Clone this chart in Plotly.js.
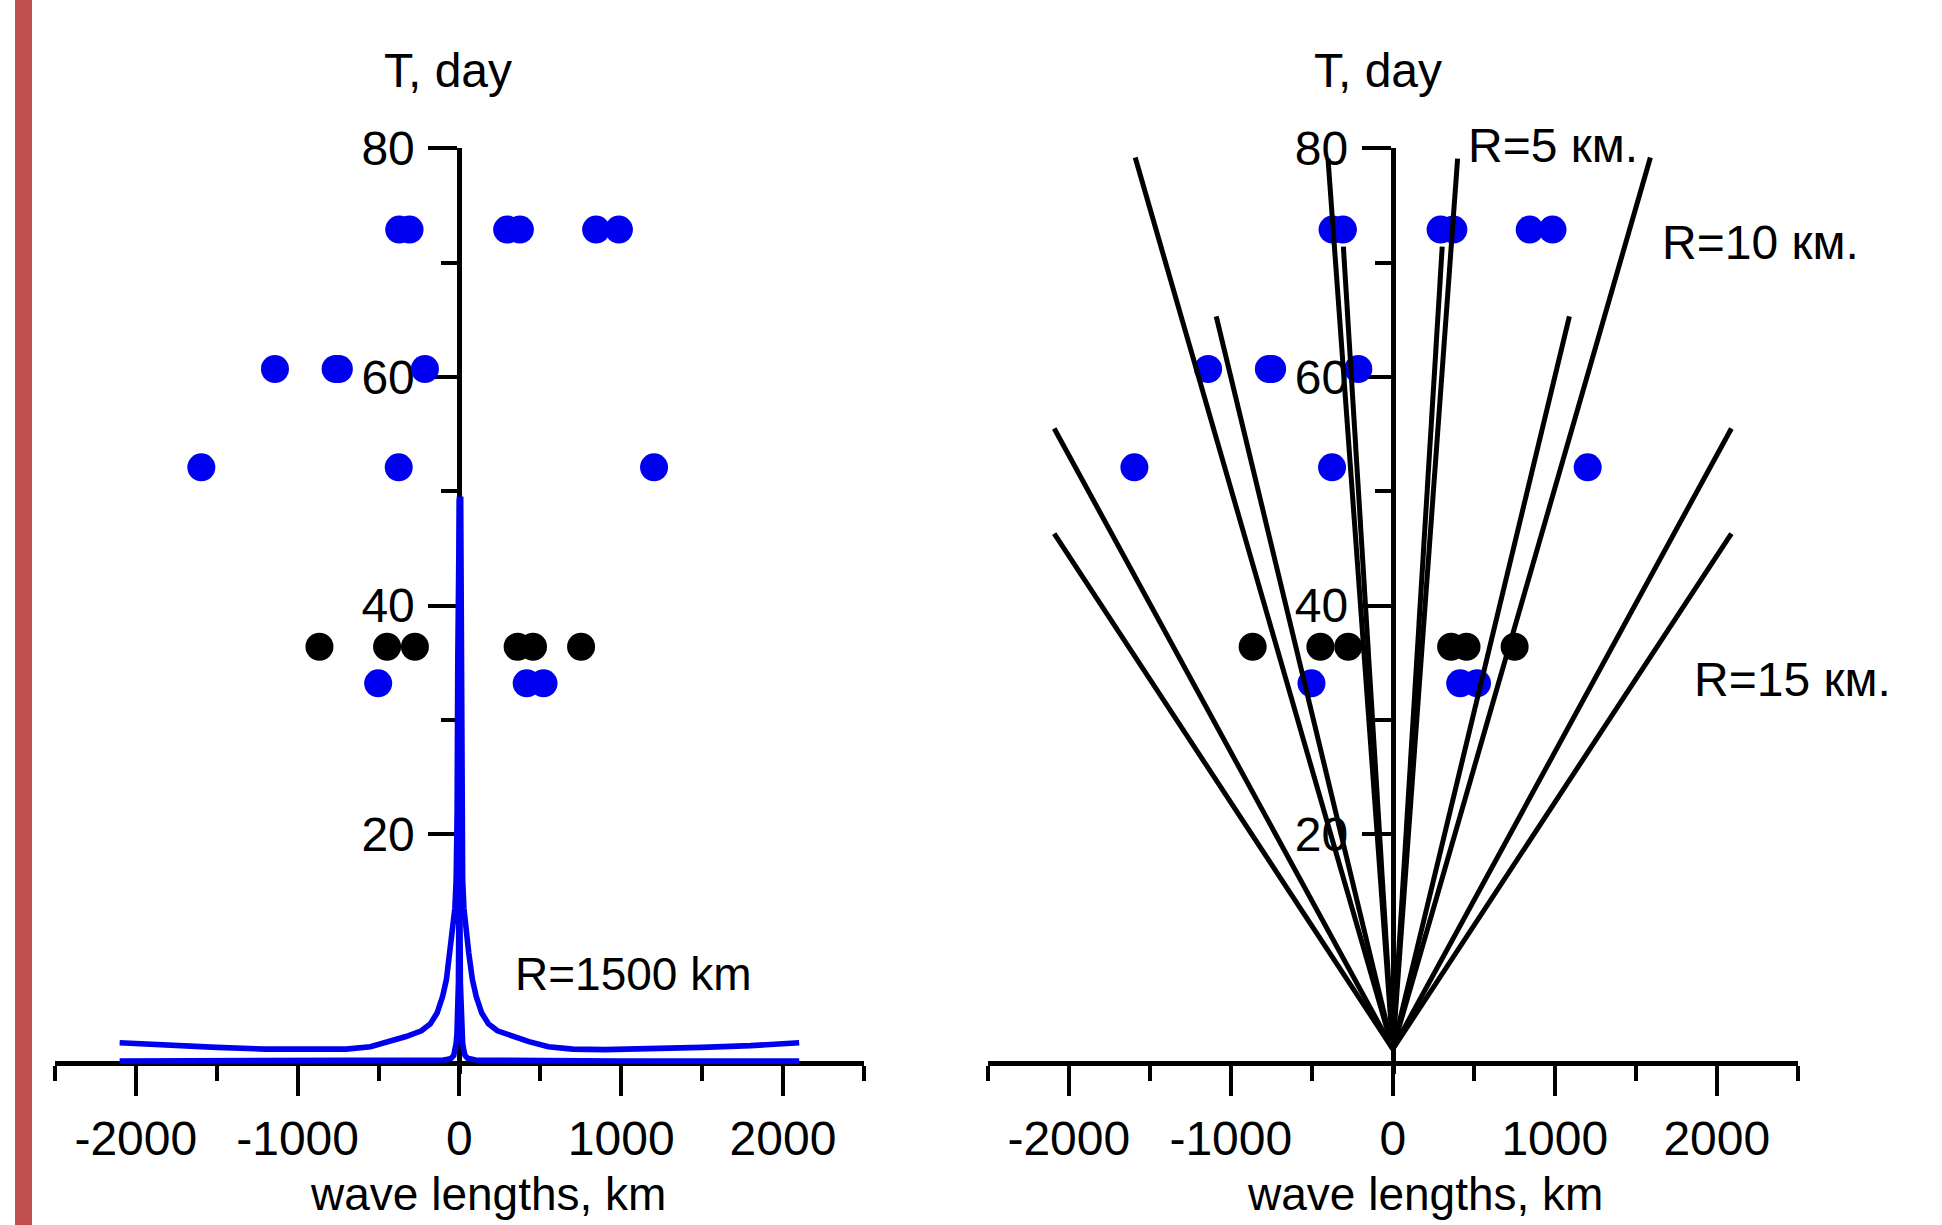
<!DOCTYPE html>
<html>
<head>
<meta charset="utf-8">
<script src="https://cdn.plot.ly/plotly-3.0.1.min.js"></script>
<style>
  html, body { margin: 0; padding: 0; background: #ffffff; }
  #chart { width: 1942px; height: 1225px; }
</style>
</head>
<body>
<div id="chart"></div>
<script>
// ---------------- DATA ----------------
// Observed points, wave length (km) vs period T (days) - same in both panels
const blueDotX = [-372, -308, 295, 374, 845, 986,
                  -1140, -765, -745, -213,
                  -1595, -375, 1203,
                  -502, 416, 520];
const blueDotT = [72.9, 72.9, 72.9, 72.9, 72.9, 72.9,
                  60.7, 60.7, 60.7, 60.7,
                  52.1, 52.1, 52.1,
                  33.2, 33.2, 33.2];
const blackDotX = [-865, -447, -275, 360, 455, 752];
const blackDotT = [36.4, 36.4, 36.4, 36.4, 36.4, 36.4];

// Left panel: dispersion curves, R = 1500 km
const spikeX = [-2100, -1500, -1000, -600, -300, -150, -100, -70, -50, -35, -27, -20, -15, -10, -6, -3, -1.5, 0,
                1.5, 3, 6, 10, 15, 20, 27, 35, 50, 70, 100, 150, 300, 600, 1000, 1500, 2100];
const spikeT = [0.15, 0.15, 0.16, 0.17, 0.19, 0.22, 0.25, 0.3, 0.4, 0.65, 1.1, 1.7, 2.6, 4, 7, 14, 28, 49.3,
                28, 14, 7, 4, 2.6, 1.7, 1.1, 0.65, 0.4, 0.3, 0.25, 0.22, 0.19, 0.17, 0.16, 0.15, 0.15];
const wideX = [-2100, -1800, -1500, -1200, -900, -700, -550, -430, -330, -235, -180, -138, -104, -80, -58, -40, -28, -20, -14, -10, -8, 0,
               8, 10, 14, 20, 28, 40, 58, 80, 104, 138, 180, 235, 330, 430, 550, 700, 900, 1200, 1500, 1800, 2100];
const wideT = [1.75, 1.5, 1.35, 1.2, 1.15, 1.2, 1.4, 1.85, 2.3, 2.8, 3.4, 4.35, 5.8, 7.3, 9.6, 11.5, 13.5, 16, 22, 35, 49.3, 49.3,
               49.3, 35, 22, 16, 13.5, 11.5, 9.6, 7.3, 5.8, 4.35, 3.4, 2.8, 2.3, 1.85, 1.4, 1.2, 1.15, 1.2, 1.35, 1.5, 1.75];

// Right panel: straight rays from a common origin (R = 5, 10, 15 km)
const rayOriginX = 0;
const rayOriginT = 1.2;
const rayEndX = [-2090, -2090, -1590, -1090, -400, -305, 305, 400, 1090, 1590, 2090, 2090];
const rayEndT = [46.3, 55.5, 79.2, 65.3, 79.1, 71.4, 71.4, 79.1, 65.3, 79.2, 55.5, 46.3];

// Axis ticks
const xMajor = [-2000, -1000, 0, 1000, 2000];
const xMinor = [-2500, -1500, -500, 500, 1500, 2500];
const yMajor = [20, 40, 60, 80];
const yMinor = [30, 50, 70];

// Texts
const yTitle = 'T, day';
const xTitle = 'wave lengths, km';
const labelLeft = {text: 'R=1500 km', x: 1077, t: 7.8};
const labelsRight = [
  {text: 'R=10 км.', x: 2267, t: 71.8},
  {text: 'R=15 км.', x: 2470, t: 33.5}
];
const labelTop = {text: 'R=5 км.'};

// ---------------- BUILD ----------------
const BLUE = '#0000f0';
const FONT = 'Liberation Sans, Arial, Helvetica, sans-serif';

const rayX = [], rayT = [];
for (let i = 0; i < rayEndX.length; i++) {
  rayX.push(rayOriginX, rayEndX[i], null);
  rayT.push(rayOriginT, rayEndT[i], null);
}

const dotMarker = (c) => ({size: 28, color: c, line: {width: 0}});

const traces = [
  // left panel
  {x: wideX, y: wideT, xaxis: 'x', yaxis: 'y', mode: 'lines', line: {color: BLUE, width: 5.6}, hoverinfo: 'skip'},
  {x: spikeX, y: spikeT, xaxis: 'x', yaxis: 'y', mode: 'lines', line: {color: BLUE, width: 5.6}, hoverinfo: 'skip'},
  {x: blueDotX, y: blueDotT, xaxis: 'x', yaxis: 'y', mode: 'markers', marker: dotMarker(BLUE), cliponaxis: false},
  {x: blackDotX, y: blackDotT, xaxis: 'x', yaxis: 'y', mode: 'markers', marker: dotMarker('#000000'), cliponaxis: false},
  // right panel
  {x: blueDotX, y: blueDotT, xaxis: 'x2', yaxis: 'y2', mode: 'markers', marker: dotMarker(BLUE), cliponaxis: false},
  {x: blackDotX, y: blackDotT, xaxis: 'x2', yaxis: 'y2', mode: 'markers', marker: dotMarker('#000000'), cliponaxis: false},
  {x: rayX, y: rayT, xaxis: 'x2', yaxis: 'y2', mode: 'lines', line: {color: '#000000', width: 5}, hoverinfo: 'skip', connectgaps: false}
];

const W = 1942, H = 1225;
const yFrac = (px) => 1 - px / H;
const tickFont = {family: FONT, size: 48, color: '#000000'};

function xAxis(domain, posPaper) {
  return {
    domain: domain, range: [-2500, 2500], anchor: 'free', position: posPaper,
    showline: true, linecolor: '#000000', linewidth: 5, mirror: false,
    showgrid: false, zeroline: false,
    tickmode: 'array', tickvals: xMajor, ticktext: xMajor.map(String),
    ticks: 'outside', ticklen: 30, tickwidth: 4, tickcolor: '#000000',
    minor: {tickmode: 'array', tickvals: xMinor, ticks: 'outside', ticklen: 15, tickwidth: 4, tickcolor: '#000000', showgrid: false},
    tickfont: tickFont, ticklabelstandoff: 2,
    layer: 'below traces', fixedrange: true
  };
}
function yAxis(domain, posPaper) {
  return {
    domain: domain, range: [-1, 80], anchor: 'free', position: posPaper, side: 'left',
    showline: true, linecolor: '#000000', linewidth: 5, mirror: false,
    showgrid: false, zeroline: false,
    tickmode: 'array', tickvals: yMajor, ticktext: yMajor.map(String),
    ticks: 'outside', ticklen: 29, tickwidth: 4, tickcolor: '#000000',
    minor: {tickmode: 'array', tickvals: yMinor, ticks: 'outside', ticklen: 16, tickwidth: 4, tickcolor: '#000000', showgrid: false},
    tickfont: tickFont, ticklabelstandoff: 4,
    layer: 'below traces', fixedrange: true
  };
}

const yDomain = [yFrac(1062.8 + 11.43), yFrac(148.4)];
const xZeroPaper = yFrac(1062.8);

const annotations = [
  {text: yTitle, xref: 'paper', yref: 'paper', x: 447.7 / W, y: yFrac(70), xanchor: 'center', yanchor: 'middle', showarrow: false, font: {family: FONT, size: 48, color: '#000'}},
  {text: yTitle, xref: 'paper', yref: 'paper', x: 1377.5 / W, y: yFrac(70), xanchor: 'center', yanchor: 'middle', showarrow: false, font: {family: FONT, size: 48, color: '#000'}},
  {text: xTitle, xref: 'paper', yref: 'paper', x: 488 / W, y: yFrac(1166), xanchor: 'center', yanchor: 'top', showarrow: false, font: {family: FONT, size: 46, color: '#000'}},
  {text: xTitle, xref: 'paper', yref: 'paper', x: 1424.7 / W, y: yFrac(1166), xanchor: 'center', yanchor: 'top', showarrow: false, font: {family: FONT, size: 46, color: '#000'}},
  {text: labelLeft.text, xref: 'x', yref: 'y', x: labelLeft.x, y: labelLeft.t, xanchor: 'center', yanchor: 'middle', showarrow: false, font: {family: FONT, size: 46, color: '#000'}},
  {text: labelTop.text, xref: 'paper', yref: 'paper', x: 1553 / W, y: yFrac(146), xanchor: 'center', yanchor: 'middle', showarrow: false, font: {family: FONT, size: 48, color: '#000'}}
].concat(labelsRight.map(l => ({
  text: l.text, xref: 'x2', yref: 'y2', x: l.x, y: l.t, xanchor: 'center', yanchor: 'middle', showarrow: false,
  font: {family: FONT, size: 48, color: '#000'}
})));

const layout = {
  width: W, height: H,
  margin: {l: 0, r: 0, t: 0, b: 0, pad: 0},
  paper_bgcolor: '#ffffff', plot_bgcolor: 'rgba(0,0,0,0)',
  showlegend: false,
  xaxis: xAxis([54.9 / W, 863.9 / W], xZeroPaper),
  yaxis: yAxis(yDomain, 459.4 / W),
  xaxis2: xAxis([987.8 / W, 1797.8 / W], xZeroPaper),
  yaxis2: yAxis(yDomain, 1392.8 / W),
  annotations: annotations,
  shapes: [
    {type: 'rect', xref: 'paper', yref: 'paper', x0: 15 / W, x1: 32 / W, y0: 0, y1: 1, fillcolor: '#c0504d', line: {width: 0}, layer: 'below'}
  ]
};

Plotly.newPlot('chart', traces, layout, {displayModeBar: false, staticPlot: true});
</script>
</body>
</html>
